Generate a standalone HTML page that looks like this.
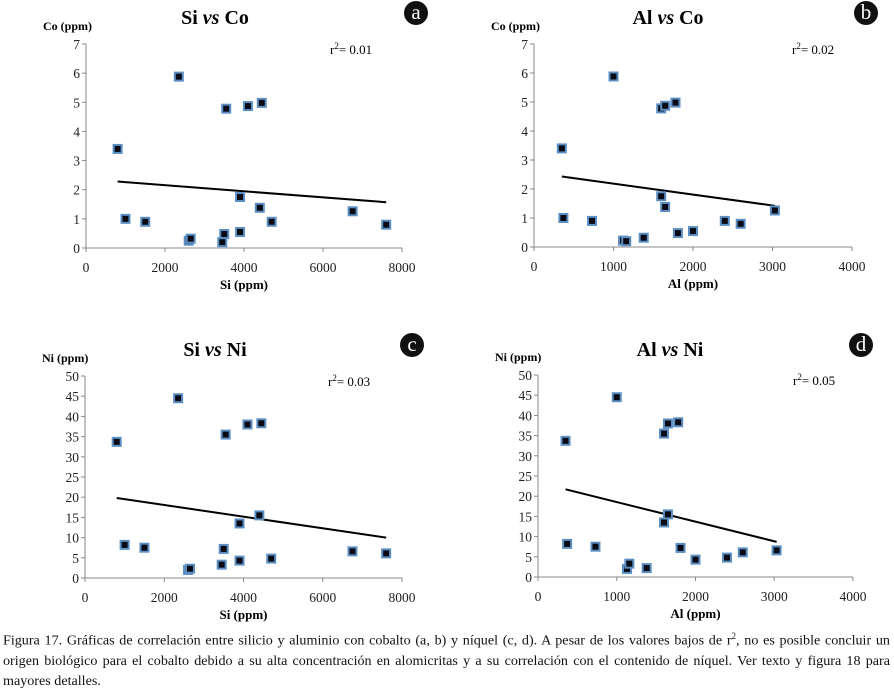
<!DOCTYPE html>
<html><head><meta charset="utf-8">
<style>
body{margin:0;background:#fff;width:894px;height:689px;overflow:hidden;font-family:"Liberation Serif",serif;}
svg text{font-family:"Liberation Serif",serif;}
#caption{position:absolute;left:3px;top:626px;width:887px;font-size:14.1px;line-height:20px;color:#111;text-align:justify;}
</style></head><body>
<svg id="fig" width="894" height="630" style="position:absolute;left:0;top:0"></svg>
<div id="caption">Figura 17. Gráficas de correlación entre silicio y aluminio con cobalto (a, b) y níquel (c, d). A pesar de los valores bajos de r<sup style="font-size:9px">2</sup>, no es posible concluir un origen biológico para el cobalto debido a su alta concentración en alomicritas y a su correlación con el contenido de níquel. Ver texto y figura 18 para mayores detalles.</div>
<script>
const siValues=[800,1000,1500,2350,2600,2650,3450,3500,3550,3900,3900,4100,4400,4450,4700,6750,7600];
const coValuesA=[3.4,1.0,0.9,5.88,0.25,0.32,0.2,0.48,4.78,0.55,1.75,4.87,1.38,4.98,0.9,1.26,0.8];
const alValues=[350,370,730,1000,1120,1160,1380,1600,1600,1650,1650,1780,1810,2000,2400,2600,3030];
const coValuesB=[3.4,1.0,0.9,5.88,0.22,0.2,0.32,4.78,1.75,4.87,1.38,4.98,0.48,0.55,0.9,0.8,1.26];
const niValuesC=[33.7,8.2,7.5,44.5,2.0,2.3,3.3,7.2,35.5,4.3,13.5,38,15.5,38.3,4.8,6.6,6.1];
const alValuesD=[350,370,730,1000,1130,1160,1380,1600,1600,1650,1650,1780,1810,2000,2400,2600,3030];
const niValuesD=[33.7,8.2,7.5,44.5,2.0,3.3,2.2,35.5,13.5,38,15.5,38.3,7.2,4.3,4.8,6.1,6.6];
const trendA=[[800,2.28],[7600,1.57]];
const trendB=[[350,2.43],[3030,1.42]];
const trendC=[[800,19.8],[7600,10.0]];
const trendD=[[350,21.7],[3030,8.7]];
const xTicksSi=[0,2000,4000,6000,8000];
const xTicksAl=[0,1000,2000,3000,4000];
const yTicksCo=[0,1,2,3,4,5,6,7];
const yTicksNi=[0,5,10,15,20,25,30,35,40,45,50];

const NS="http://www.w3.org/2000/svg";
const svg=document.getElementById('fig');
function el(tag,attrs,parent){const e=document.createElementNS(NS,tag);for(const k in attrs)e.setAttribute(k,attrs[k]);(parent||svg).appendChild(e);return e;}

const charts=[
 {id:'a',t1:'Si ',t2:'Co',xs:siValues,ys:coValuesA,tr:trendA,xt:xTicksSi,yt:yTicksCo,xmax:8000,ymax:7,x0:86,x1:402,y0:248,y1:44,xl:'Si (ppm)',yl:'Co  (ppm)',r2:'0.01',r2x:330,tx:215,bx:416,by:13},
 {id:'b',t1:'Al ',t2:'Co',xs:alValues,ys:coValuesB,tr:trendB,xt:xTicksAl,yt:yTicksCo,xmax:4000,ymax:7,x0:534,x1:852,y0:247,y1:44,xl:'Al (ppm)',yl:'Co  (ppm)',r2:'0.02',r2x:792,tx:668,bx:866,by:13},
 {id:'c',t1:'Si ',t2:'Ni',xs:siValues,ys:niValuesC,tr:trendC,xt:xTicksSi,yt:yTicksNi,xmax:8000,ymax:50,x0:85,x1:402,y0:578,y1:376,xl:'Si (ppm)',yl:'Ni  (ppm)',r2:'0.03',r2x:328,tx:215,bx:412,by:345},
 {id:'d',t1:'Al ',t2:'Ni',xs:alValuesD,ys:niValuesD,tr:trendD,xt:xTicksAl,yt:yTicksNi,xmax:4000,ymax:50,x0:538,x1:853,y0:577,y1:375,xl:'Al (ppm)',yl:'Ni (ppm)',r2:'0.05',r2x:793,tx:670,bx:861,by:345}
];

charts.forEach(c=>{
 const g=el('g',{});
 
 
 const X=v=>c.x0+(v/c.xmax)*(c.x1-c.x0);
 const Y=v=>c.y0-(v/c.ymax)*(c.y0-c.y1);
 const t=el('text',{x:c.tx,y:c.by+11,'text-anchor':'middle','font-size':'20','font-weight':'bold'},g);
 
 
 const s1=el('tspan',{},t);s1.textContent=c.t1;
 const s2=el('tspan',{'font-style':'italic'},t);s2.textContent='vs';
 const s3=el('tspan',{},t);s3.textContent=' '+c.t2;
 const b=el('g',{},g);
 
 
 el('circle',{cx:c.bx,cy:c.by,r:12,fill:'#111'},b);
 const bt=el('text',{x:c.bx,y:c.by+6,'text-anchor':'middle','font-size':'21',fill:'#fff'},b);bt.textContent=c.id;
 const yl=el('text',{x:c.x0-43,y:c.y1-14,'font-size':'12','font-weight':'bold'},g);
 
 
 yl.textContent=c.yl;
 const ax=el('g',{stroke:'#888','stroke-width':'1'},g);
 
 
 el('line',{x1:c.x0,y1:c.y1,x2:c.x0,y2:c.y0},ax);
 el('line',{x1:c.x0,y1:c.y0,x2:c.x1,y2:c.y0},ax);
 c.yt.forEach(v=>{
  el('line',{x1:c.x0-4,y1:Y(v),x2:c.x0,y2:Y(v)},ax);
  const tl=el('text',{x:c.x0-6,y:Y(v)+5,'text-anchor':'end','font-size':'13.5',fill:'#222'},g);
  
  
  tl.textContent=v;
 });
 c.xt.forEach(v=>{
  el('line',{x1:X(v),y1:c.y0,x2:X(v),y2:c.y0+4},ax);
  const tl=el('text',{x:X(v),y:c.y0+24,'text-anchor':'middle','font-size':'13.5',fill:'#222'},g);
  
  
  tl.textContent=v;
 });
 const xl=el('text',{x:(c.x0+c.x1)/2,y:c.y0+41,'text-anchor':'middle','font-size':'13','font-weight':'bold'},g);
 
 
 xl.textContent=c.xl;
 const r=el('text',{x:c.r2x,y:c.y1+10,'font-size':'13'},g);
 
 
 const r1=el('tspan',{},r);r1.textContent='r';
 const r2s=el('tspan',{dy:'-5','font-size':'9'},r);r2s.textContent='2';
 const r3=el('tspan',{dy:'5'},r);r3.textContent='= '+c.r2;
 const tl=el('line',{x1:X(c.tr[0][0]),y1:Y(c.tr[0][1]),x2:X(c.tr[1][0]),y2:Y(c.tr[1][1]),stroke:'#000','stroke-width':'2'},g);
 
 
 c.xs.forEach((xv,i)=>{
  const p=el('g',{},g);
  
  
  const px=X(xv),py=Y(c.ys[i]);
  el('rect',{x:px-5,y:py-5,width:10,height:10,fill:'#5b8fc4'},p);
  el('rect',{x:px-3,y:py-3,width:6,height:6,fill:'#0a0a14'},p);
 });
});
</script>
</body></html>
